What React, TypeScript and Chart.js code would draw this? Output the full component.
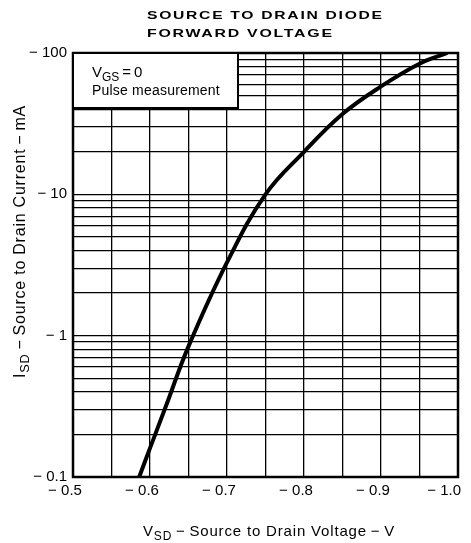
import React, { useEffect, useRef } from "react";
import { Chart, registerables } from "chart.js";

Chart.register(...registerables);

// Data (plotted as magnitudes, labelled negative)
const vsd = [0.586, 0.6, 0.62, 0.65, 0.7, 0.75, 0.8, 0.85, 0.9, 0.95, 0.986];
const isd = [0.1, 0.16, 0.31, 0.84, 3.3, 10, 20, 37, 58, 84, 100];

const xGridValues = [0.5, 0.55, 0.6, 0.65, 0.7, 0.75, 0.8, 0.85, 0.9, 0.95, 1.0];
const xLabelValues = [0.5, 0.6, 0.7, 0.8, 0.9, 1.0];
const yGridValues = [
  0.1, 0.2, 0.3, 0.4, 0.5, 0.6, 0.7, 0.8, 0.9,
  1, 2, 3, 4, 5, 6, 7, 8, 9,
  10, 20, 30, 40, 50, 60, 70, 80, 90, 100,
];
const yLabelValues = [0.1, 1, 10, 100];

const titleLines = ["SOURCE TO DRAIN DIODE", "FORWARD VOLTAGE"];
const FONT = '"Liberation Sans", Arial, Helvetica, sans-serif';

type Seg = { t: string; sub?: boolean };

function setLS(ctx: CanvasRenderingContext2D, px: number) {
  (ctx as any).letterSpacing = `${px}px`;
}

function measureSegs(ctx: CanvasRenderingContext2D, segs: Seg[], size: number, ls: number) {
  let w = 0;
  setLS(ctx, ls);
  for (const s of segs) {
    const fs = s.sub ? size * 0.8 : size;
    ctx.font = `${fs}px ${FONT}`;
    w += ctx.measureText(s.t).width;
  }
  return w;
}

function drawSegs(ctx: CanvasRenderingContext2D, segs: Seg[], x: number, y: number, size: number, ls: number) {
  let cx = x;
  setLS(ctx, ls);
  for (const s of segs) {
    const fs = s.sub ? size * 0.8 : size;
    ctx.font = `${fs}px ${FONT}`;
    ctx.fillText(s.t, cx, s.sub ? y + size * 0.25 : y);
    cx += ctx.measureText(s.t).width;
  }
  setLS(ctx, 0);
  return cx - x;
}

function fitLS(ctx: CanvasRenderingContext2D, segs: Seg[], size: number, target: number) {
  const w0 = measureSegs(ctx, segs, size, 0);
  const n = segs.reduce((a, s) => a + s.t.length, 0);
  return (target - w0) / n;
}

const overlayPlugin = {
  id: "overlay",
  afterDraw(chart: any) {
    const ctx: CanvasRenderingContext2D = chart.ctx;
    const a = chart.chartArea;
    ctx.save();
    // frame
    ctx.strokeStyle = "#000";
    ctx.lineWidth = 2.5;
    ctx.strokeRect(a.left, a.top, a.right - a.left, a.bottom - a.top);

    // x tick labels (drawn from the x scale, slightly left of each grid line like the original)
    const xs = chart.scales.x;
    ctx.fillStyle = "#000";
    ctx.font = `15px ${FONT}`;
    ctx.textBaseline = "middle";
    ctx.textAlign = "center";
    xLabelValues.forEach((v) => {
      const label = "\u2212 " + v.toFixed(1);
      const w = ctx.measureText(label).width;
      let cx = xs.getPixelForValue(v) - 8;
      cx = Math.min(cx, 461 - w / 2);
      ctx.fillText(label, cx, a.bottom + 14);
    });

    // annotation box
    const bx = a.left, by = a.top, bw = 165, bh = 55;
    ctx.fillStyle = "#fff";
    ctx.fillRect(bx, by, bw, bh);
    ctx.lineWidth = 2;
    ctx.strokeRect(bx, by, bw, bh);
    ctx.fillStyle = "#000";
    ctx.textBaseline = "alphabetic";
    ctx.textAlign = "left";
    drawSegs(ctx, [{ t: "V" }, { t: "GS", sub: true }, { t: "\u2009=\u20090" }], bx + 19, by + 24, 15, 0);
    drawSegs(ctx, [{ t: "Pulse measurement" }], bx + 19, by + 42, 14, 0.2);

    // title: wide, extended caps
    const targets = [235, 185];
    const baselines = [19, 37];
    titleLines.forEach((line, i) => {
      ctx.save();
      ctx.font = `bold 11px ${FONT}`;
      setLS(ctx, 1.2);
      const w = ctx.measureText(line).width - 1.2;
      const sx = targets[i] / w;
      ctx.translate(147, baselines[i]);
      ctx.scale(sx, 1);
      ctx.fillText(line, 0, 0);
      ctx.restore();
    });
    setLS(ctx, 0);

    // x axis title
    const xt: Seg[] = [{ t: "V" }, { t: "SD", sub: true }, { t: "\u2009\u2212\u2009Source to Drain Voltage\u2009\u2212\u2009V" }];
    const xls = fitLS(ctx, xt, 15, 252);
    drawSegs(ctx, xt, 143, 536, 15, xls);

    // y axis title
    const yt: Seg[] = [{ t: "I" }, { t: "SD", sub: true }, { t: "\u2009\u2212\u2009Source to Drain Current\u2009\u2212\u2009mA" }];
    const yls = fitLS(ctx, yt, 16, 273);
    ctx.translate(25, 378);
    ctx.rotate(-Math.PI / 2);
    drawSegs(ctx, yt, 0, 0, 16, yls);
    ctx.restore();
  },
};

export default function App() {
  const ref = useRef<HTMLCanvasElement | null>(null);
  useEffect(() => {
    if (!ref.current) return;
    const chart = new Chart(ref.current, {
      type: "line",
      data: {
        datasets: [
          {
            data: vsd.map((v, i) => ({ x: v, y: isd[i] })),
            borderColor: "#000",
            borderWidth: 4,
            pointRadius: 0,
            tension: 0.4,
            fill: false,
          },
        ],
      },
      options: {
        animation: false,
        responsive: false,
        maintainAspectRatio: false,
        layout: { padding: { top: 53, right: 13, left: 0, bottom: 0 } },
        plugins: { legend: { display: false }, tooltip: { enabled: false }, title: { display: false } },
        scales: {
          x: {
            type: "linear",
            min: 0.5,
            max: 1.0,
            afterBuildTicks: (s: any) => {
              s.ticks = xGridValues.map((v) => ({ value: v }));
            },
            afterFit: (s: any) => {
              s.height = 66;
              s.paddingLeft = 0;
              s.paddingRight = 0;
            },
            grid: { color: "#000", lineWidth: 1.3, drawTicks: false },
            border: { display: false },
            ticks: {
              autoSkip: false,
              maxRotation: 0,
              padding: 6,
              color: "#000",
              font: { family: FONT, size: 15 },
              callback: () => "",
            },
          },
          y: {
            type: "logarithmic",
            min: 0.1,
            max: 100,
            afterBuildTicks: (s: any) => {
              s.ticks = yGridValues.map((v) => ({ value: v }));
            },
            afterFit: (s: any) => {
              s.width = 73;
              s.paddingTop = 0;
              s.paddingBottom = 0;
            },
            grid: { color: "#000", lineWidth: 1.3, drawTicks: false },
            border: { display: false },
            ticks: {
              autoSkip: false,
              padding: 6,
              color: "#000",
              font: { family: FONT, size: 15 },
              callback: (val: any) => {
                const v = Number(val);
                return yLabelValues.some((l) => Math.abs(l - v) < 1e-9) ? "\u2212 " + String(v) : "";
              },
            },
          },
        },
      },
      plugins: [overlayPlugin],
    } as any);
    return () => chart.destroy();
  }, []);
  return (
    <div style={{ position: "fixed", left: 0, top: 0, width: 471, height: 543, background: "#fff" }}>
      <canvas ref={ref} width={471} height={543} style={{ width: 471, height: 543 }} />
    </div>
  );
}
